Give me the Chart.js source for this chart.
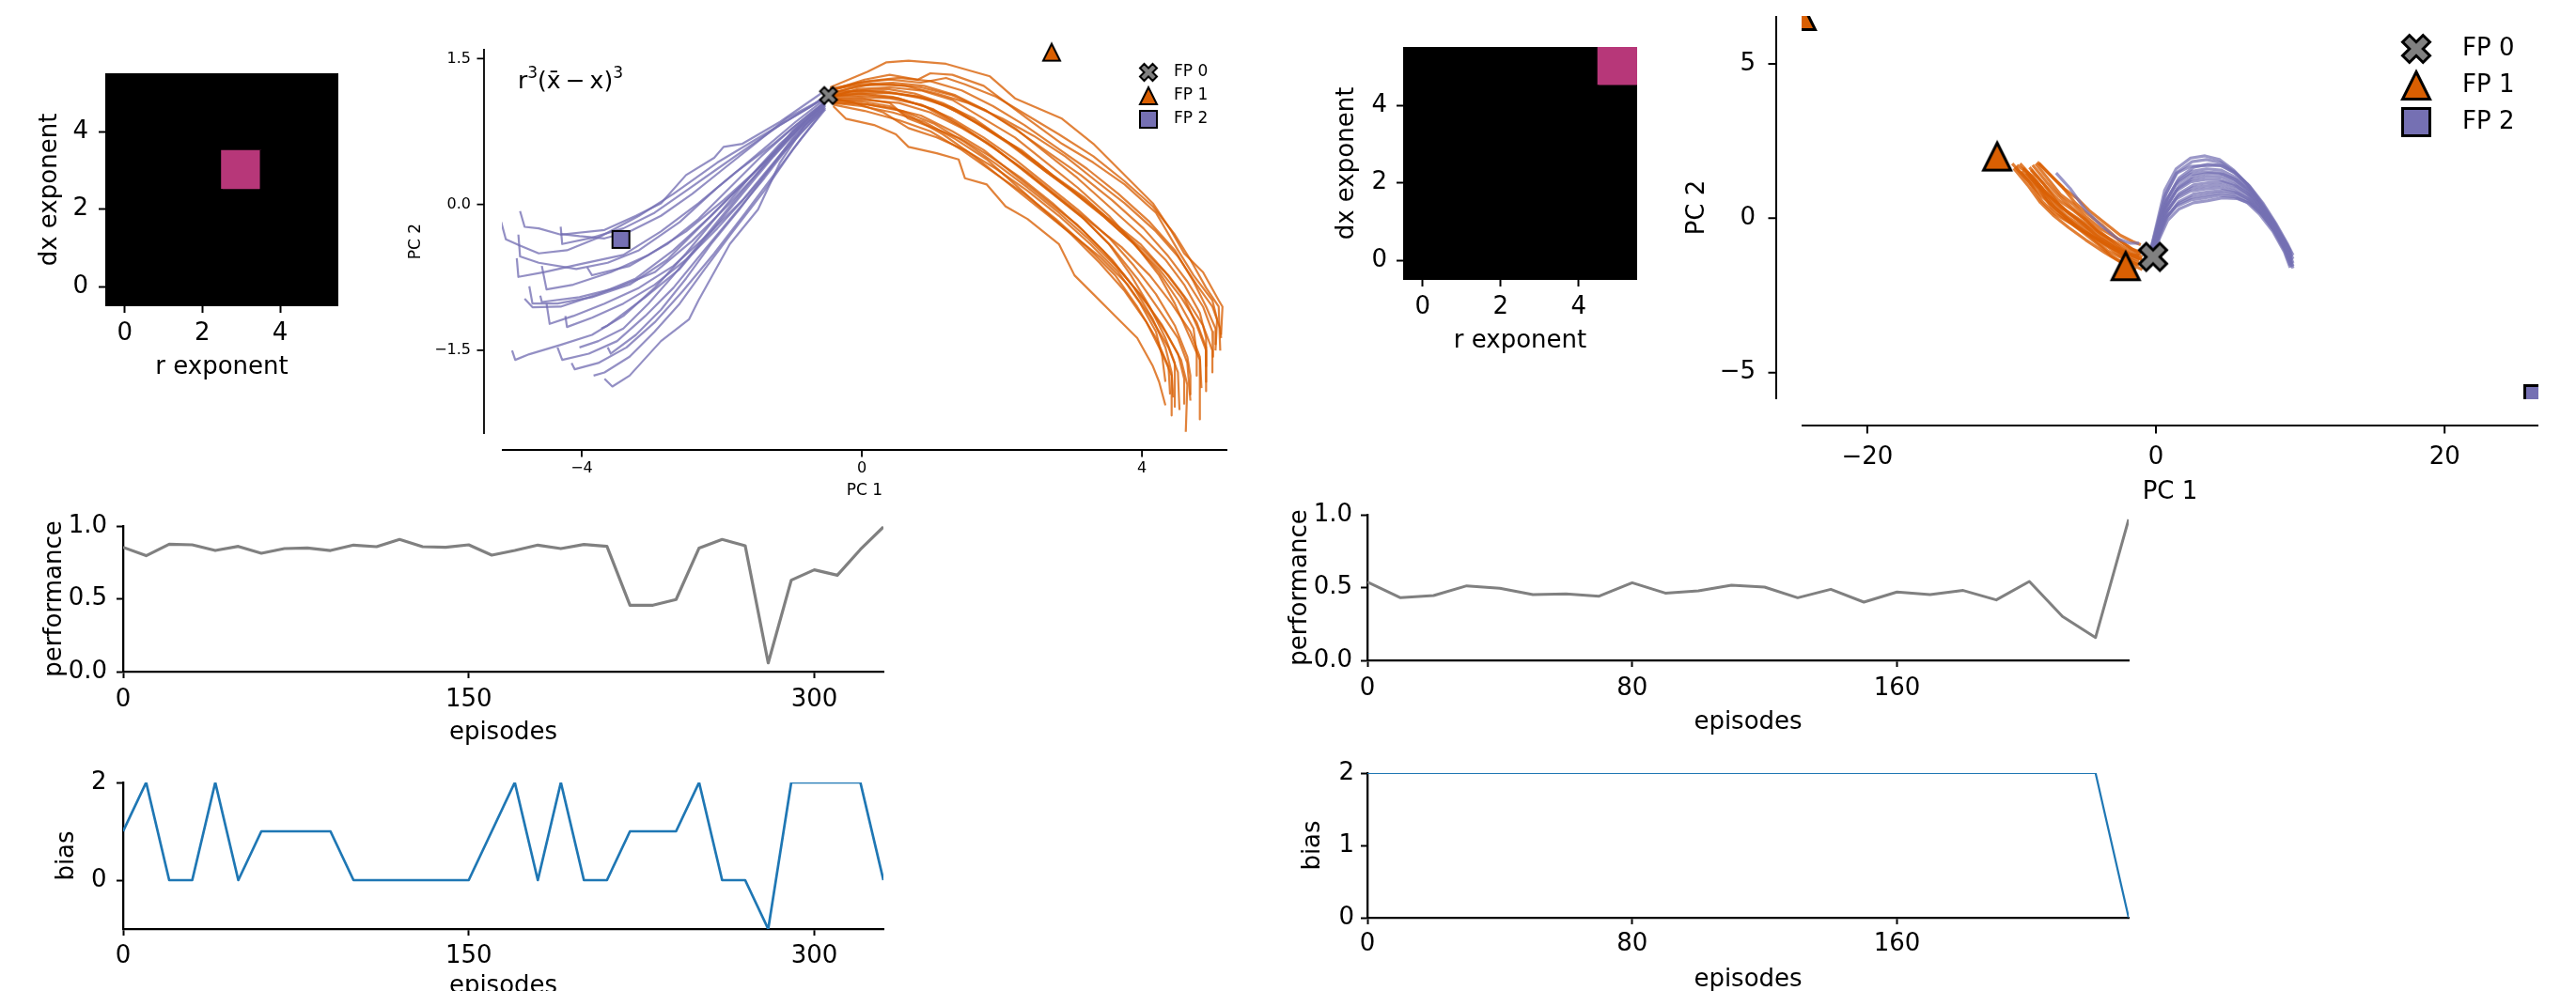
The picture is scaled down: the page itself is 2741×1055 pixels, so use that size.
<!DOCTYPE html>
<html><head><meta charset="utf-8">
<script src="https://cdn.jsdelivr.net/npm/chart.js@4.4.1/dist/chart.umd.min.js"></script>
<style>
html,body{margin:0;padding:0;background:#fff;overflow:hidden;width:2741px;height:1055px;}
canvas{position:absolute;}
</style></head><body>
<script>
// ================= DATA =================
const heatCols = ['0','1','2','3','4','5'];
const heatTicks = [0, 2, 4];
const heatTickLabels = ['0', '2', '4'];
const heatPalette = ['#000000', '#b73779'];
// rows = dx exponent 0..5 (bottom to top), columns = r exponent 0..5
const heatLeft = [
  [0,0,0,0,0,0],
  [0,0,0,0,0,0],
  [0,0,0,0,0,0],
  [0,0,0,1,0,0],
  [0,0,0,0,0,0],
  [0,0,0,0,0,0]];
const heatRight = [
  [0,0,0,0,0,0],
  [0,0,0,0,0,0],
  [0,0,0,0,0,0],
  [0,0,0,0,0,0],
  [0,0,0,0,0,0],
  [0,0,0,0,0,1]];

const fpLabels = ['FP 0', 'FP 1', 'FP 2'];

// ---- left PC panel ----
const pcLeftXTicks = [-4, 0, 4];
const pcLeftXTickLabels = ['\u22124', '0', '4'];
const pcLeftYTicks = [-1.5, 0, 1.5];
const pcLeftYTickLabels = ['\u22121.5', '0.0', '1.5'];
const pcLeftRange = { xmin: -5.14, xmax: 5.22, ymin: -2.36, ymax: 1.60 };
const fpLeft0 = [[-0.475, 1.12]];
const fpLeft1 = [[2.71, 1.565]];
const fpLeft2 = [[-3.44, -0.36]];
const leftPurple = [
 [-0.587,1.139, -1.168,0.849, -1.705,0.624, -1.974,0.592, -2.108,0.479, -2.51,0.302, -2.868,0.012, -3.226,-0.117, -3.674,-0.262, -4.30,-0.31, -4.613,-0.246, -4.815,-0.23, -4.88,-0.068],
 [-0.54,1.108, -0.72,1.011, -1.392,0.721, -2.063,0.431, -2.69,0.109, -3.182,-0.117, -3.763,-0.342, -4.21,-0.471, -4.613,-0.503, -4.88,-0.423, -5.083,-0.358, -5.15,-0.181],
 [-0.54,1.075, -0.945,0.849, -1.526,0.495, -2.063,0.173, -2.6,-0.181, -3.182,-0.471, -3.629,-0.6, -4.077,-0.664, -4.613,-0.6, -4.88,-0.535, -4.904,-0.31],
 [-0.52,1.059, -0.72,0.946, -1.258,0.624, -1.795,0.334, -2.332,0.012, -2.868,-0.278, -3.405,-0.519, -4.032,-0.616, -4.546,-0.697, -4.904,-0.745, -4.927,-0.552],
 [-0.54,1.043, -0.9,0.817, -1.392,0.431, -1.795,0.141, -2.242,-0.181, -2.779,-0.568, -3.316,-0.825, -3.853,-0.954, -4.345,-1.019, -4.703,-1.019, -4.748,-0.841],
 [-0.52,1.043, -0.72,0.914, -1.168,0.592, -1.616,0.27, -2.153,-0.117, -2.69,-0.471, -3.226,-0.761, -3.763,-0.922, -4.30,-1.051, -4.703,-1.057, -4.815,-0.97],
 [-0.54,1.011, -1.034,0.688, -1.482,0.366, -1.974,0.044, -2.51,-0.278, -3.047,-0.519, -3.584,-0.697, -4.121,-0.825, -4.502,-0.874, -4.569,-0.632],
 [-0.52,1.011, -0.81,0.817, -1.258,0.431, -1.705,0.044, -2.198,-0.31, -2.69,-0.632, -3.182,-0.857, -3.674,-1.019, -4.121,-1.147, -4.457,-1.228, -4.502,-1.019],
 [-0.52,0.994, -0.72,0.849, -1.168,0.495, -1.616,0.109, -2.063,-0.246, -2.51,-0.568, -2.958,-0.825, -3.405,-1.019, -3.853,-1.164, -4.21,-1.26, -4.233,-1.147],
 [-0.52,1.027, -0.72,0.914, -1.168,0.624, -1.616,0.27, -2.063,-0.117, -2.51,-0.503, -2.958,-0.857, -3.405,-1.147, -3.853,-1.341, -4.30,-1.444, -4.748,-1.54, -4.949,-1.598, -4.994,-1.502],
 [-0.54,0.978, -0.945,0.688, -1.392,0.27, -1.84,-0.117, -2.287,-0.503, -2.69,-0.857, -3.092,-1.147, -3.495,-1.405, -3.898,-1.534, -4.278,-1.598, -4.345,-1.47],
 [-0.52,0.978, -0.855,0.688, -1.258,0.302, -1.661,-0.085, -2.108,-0.503, -2.555,-0.89, -2.958,-1.212, -3.36,-1.47, -3.763,-1.63, -4.099,-1.695, -4.144,-1.63],
 [-0.54,1.011, -0.81,0.817, -1.168,0.431, -1.482,-0.052, -1.884,-0.407, -2.332,-0.986, -2.466,-1.18, -2.868,-1.405, -3.316,-1.76, -3.562,-1.872, -3.674,-1.792],
 [-0.54,0.978, -0.99,0.559, -1.392,0.141, -1.84,-0.278, -2.242,-0.664, -2.6,-1.019, -2.958,-1.308, -3.316,-1.566, -3.674,-1.727, -3.83,-1.76],
 [-0.54,0.994, -0.945,0.721, -1.347,0.334, -1.75,-0.052, -2.153,-0.407, -2.51,-0.761, -2.868,-1.083, -3.226,-1.341, -3.584,-1.534, -3.629,-1.47],
 [-0.54,1.027, -0.99,0.753, -1.437,0.366, -1.884,-0.02, -2.287,-0.374, -2.69,-0.729, -3.047,-1.019, -3.405,-1.276, -3.763,-1.405, -4.032,-1.47],
 [-0.54,1.043, -0.945,0.753, -1.392,0.399, -1.884,0.012, -2.421,-0.374, -2.958,-0.697, -3.495,-0.857, -4.032,-0.954, -4.569,-1.003, -4.591,-0.938],
 [-0.54,1.091, -0.72,1.011, -1.168,0.817, -1.616,0.592, -2.063,0.366, -2.51,0.141, -2.958,-0.085, -3.405,-0.246, -3.853,-0.342, -4.278,-0.407, -4.30,-0.23],
 [-0.54,1.043, -0.99,0.785, -1.437,0.495, -1.884,0.173, -2.332,-0.149, -2.779,-0.407, -3.316,-0.632, -3.853,-0.728, -3.92,-0.648],
 [-0.54,1.091, -1.079,0.882, -1.526,0.624, -1.974,0.366, -2.421,0.109, -2.868,-0.117, -3.316,-0.278, -3.674,-0.349, -4.032,-0.326, -4.30,-0.304],
 [-0.52,1.043, -0.81,0.849, -1.258,0.495, -1.705,0.109, -2.153,-0.278, -2.6,-0.664, -3.092,-0.954, -3.629,-1.244, -3.719,-1.276]
];
const leftOrange = [
 [-0.452,1.204, 0.085,1.365, 0.353,1.462, 0.666,1.478, 1.203,1.446, 1.83,1.317, 2.187,1.091, 2.858,0.882, 3.306,0.624, 3.798,0.27, 4.156,0.012, 4.424,-0.278, 4.603,-0.503, 4.872,-0.696, 5.096,-0.986, 5.15,-1.051, 5.13,-1.34],
 [-0.452,1.172, 0.04,1.284, 0.398,1.333, 0.8,1.284, 0.979,1.349, 1.293,1.333, 1.74,1.22, 2.008,1.075, 2.366,0.882, 2.858,0.624, 3.306,0.431, 3.753,0.205, 4.2,-0.085, 4.514,-0.471, 4.737,-0.729, 5.006,-0.986, 5.073,-1.18, 5.05,-1.502],
 [-0.452,1.139, -0.05,1.22, 0.398,1.236, 0.845,1.204, 1.293,1.123, 1.74,0.978, 2.187,0.785, 2.635,0.527, 3.082,0.27, 3.53,-0.02, 3.977,-0.31, 4.335,-0.568, 4.603,-0.825, 4.827,-1.115, 4.916,-1.373, 4.916,-1.824],
 [-0.43,1.107, -0.05,1.188, 0.398,1.204, 0.845,1.172, 1.293,1.075, 1.74,0.882, 2.187,0.689, 2.635,0.431, 3.082,0.173, 3.53,-0.117, 3.932,-0.439, 4.245,-0.729, 4.469,-1.019, 4.648,-1.308, 4.827,-1.598, 4.827,-2.21],
 [-0.408,1.011, -0.229,0.882, 0.174,0.817, 0.487,0.721, 0.666,0.592, 1.069,0.527, 1.382,0.463, 1.472,0.27, 1.785,0.205, 2.053,-0.02, 2.366,-0.149, 2.814,-0.407, 3.037,-0.729, 3.306,-0.922, 3.619,-1.147, 3.932,-1.373, 4.156,-1.663, 4.245,-1.824, 4.335,-2.066],
 [-0.43,1.059, -0.05,1.043, 0.398,0.994, 0.845,0.914, 1.293,0.753, 1.74,0.56, 2.187,0.302, 2.635,0.044, 3.082,-0.213, 3.44,-0.471, 3.753,-0.729, 4.066,-1.019, 4.335,-1.308, 4.558,-1.598, 4.648,-1.856, 4.626,-2.339],
 [-0.452,1.091, -0.05,1.107, 0.398,1.091, 0.845,1.027, 1.293,0.882, 1.74,0.689, 2.187,0.463, 2.635,0.205, 3.082,-0.052, 3.53,-0.342, 3.887,-0.632, 4.2,-0.922, 4.469,-1.244, 4.648,-1.566, 4.692,-1.76, 4.692,-1.953],
 [-0.452,1.156, 0.04,1.172, 0.487,1.14, 0.979,1.075, 1.382,0.946, 1.83,0.753, 2.277,0.56, 2.724,0.302, 3.172,0.076, 3.619,-0.213, 4.022,-0.471, 4.379,-0.729, 4.648,-0.986, 4.872,-1.244, 5.006,-1.502, 5.006,-1.727],
 [-0.43,1.123, 0.0,1.14, 0.443,1.107, 0.89,1.01, 1.337,0.833, 1.785,0.64, 2.232,0.399, 2.68,0.141, 3.127,-0.117, 3.53,-0.407, 3.843,-0.729, 4.111,-1.051, 4.335,-1.373, 4.469,-1.63, 4.469,-2.081],
 [-0.452,1.107, -0.05,1.14, 0.398,1.146, 0.845,1.107, 1.293,0.994, 1.74,0.801, 2.187,0.592, 2.635,0.334, 3.082,0.109, 3.53,-0.149, 3.977,-0.407, 4.335,-0.697, 4.603,-0.954, 4.782,-1.244, 4.916,-1.502, 4.916,-1.92],
 [-0.43,1.075, 0.0,1.059, 0.398,1.011, 0.756,0.882, 1.158,0.721, 1.606,0.495, 2.053,0.238, 2.5,-0.02, 2.948,-0.278, 3.395,-0.535, 3.798,-0.825, 4.111,-1.147, 4.379,-1.47, 4.514,-1.727, 4.536,-2.113],
 [-0.452,1.188, 0.085,1.268, 0.532,1.301, 0.979,1.268, 1.427,1.172, 1.874,1.011, 2.321,0.817, 2.769,0.592, 3.217,0.366, 3.664,0.109, 4.111,-0.181, 4.469,-0.471, 4.737,-0.793, 4.916,-1.051, 5.051,-1.276, 5.051,-1.437],
 [-0.408,1.043, 0.0,1.011, 0.443,0.946, 0.89,0.85, 1.337,0.672, 1.785,0.463, 2.187,0.205, 2.59,-0.052, 2.993,-0.31, 3.395,-0.6, 3.753,-0.89, 4.066,-1.212, 4.29,-1.534, 4.424,-1.76, 4.424,-2.17],
 [-0.452,1.146, 0.129,1.236, 0.621,1.22, 1.069,1.14, 1.516,1.043, 2.008,0.882, 2.456,0.705, 2.903,0.495, 3.35,0.238, 3.753,0.012, 4.2,-0.278, 4.514,-0.535, 4.782,-0.825, 5.006,-1.051, 5.118,-1.276, 5.131,-1.373],
 [-0.43,1.091, -0.094,1.043, 0.308,0.946, 0.666,0.785, 1.069,0.689, 1.472,0.56, 1.919,0.366, 2.366,0.141, 2.814,-0.117, 3.261,-0.407, 3.664,-0.697, 3.977,-1.019, 4.2,-1.308, 4.29,-1.566, 4.335,-1.824],
 [-0.452,1.114, 0.04,1.123, 0.532,1.091, 1.024,0.978, 1.472,0.785, 1.919,0.56, 2.366,0.334, 2.814,0.076, 3.261,-0.181, 3.709,-0.439, 4.111,-0.729, 4.424,-1.019, 4.692,-1.308, 4.827,-1.566, 4.85,-1.888],
 [-0.452,1.133, -0.05,1.172, 0.353,1.188, 0.756,1.14, 1.158,1.043, 1.606,0.882, 2.053,0.656, 2.5,0.431, 2.948,0.173, 3.395,-0.085, 3.843,-0.375, 4.245,-0.664, 4.558,-0.954, 4.782,-1.212, 4.916,-1.47, 4.916,-1.663],
 [-0.408,1.027, 0.04,0.962, 0.532,0.866, 0.979,0.753, 1.427,0.56, 1.874,0.334, 2.321,0.109, 2.769,-0.149, 3.217,-0.439, 3.619,-0.729, 3.932,-1.051, 4.2,-1.373, 4.379,-1.663, 4.402,-1.953],
 [-0.452,1.165, -0.05,1.252, 0.398,1.284, 0.845,1.252, 1.203,1.301, 1.472,1.236, 1.919,1.107, 2.366,0.914, 2.814,0.721, 3.306,0.495, 3.753,0.238, 4.156,-0.02, 4.469,-0.31, 4.692,-0.568, 4.916,-0.857, 5.096,-1.051, 5.118,-1.502],
 [-0.43,1.069, 0.04,1.075, 0.532,1.043, 0.979,0.946, 1.427,0.785, 1.874,0.592, 2.277,0.366, 2.724,0.109, 3.172,-0.149, 3.574,-0.439, 3.932,-0.761, 4.245,-1.083, 4.514,-1.373, 4.648,-1.63, 4.692,-2.017],
 [-0.452,1.123, -0.094,1.156, 0.308,1.165, 0.756,1.114, 1.203,1.011, 1.65,0.833, 2.098,0.624, 2.545,0.382, 2.993,0.141, 3.44,-0.117, 3.887,-0.407, 4.245,-0.697, 4.514,-0.986, 4.737,-1.276, 4.782,-1.534, 4.782,-1.76],
 [-0.408,1.049, 0.085,1.027, 0.577,0.962, 1.024,0.833, 1.472,0.64, 1.919,0.415, 2.366,0.173, 2.814,-0.085, 3.217,-0.342, 3.619,-0.632, 3.977,-0.922, 4.29,-1.244, 4.514,-1.534, 4.603,-1.792, 4.603,-2.049],
 [-0.452,1.178, -0.005,1.236, 0.443,1.252, 0.89,1.22, 1.337,1.123, 1.785,0.962, 2.232,0.753, 2.68,0.527, 3.127,0.302, 3.574,0.044, 4.022,-0.246, 4.379,-0.535, 4.648,-0.793, 4.872,-1.051, 5.006,-1.308, 5.015,-1.566],
 [-0.43,1.081, 0.0,1.091, 0.398,1.043, 0.666,0.882, 1.024,0.785, 1.427,0.672, 1.83,0.495, 2.277,0.27, 2.724,0.012, 3.172,-0.278, 3.574,-0.568, 3.887,-0.857, 4.156,-1.18, 4.335,-1.47, 4.424,-1.727, 4.447,-1.985]
];

// ---- right PC panel ----
const pcRightXTicks = [-20, 0, 20];
const pcRightXTickLabels = ['\u221220', '0', '20'];
const pcRightYTicks = [-5, 0, 5];
const pcRightYTickLabels = ['\u22125', '0', '5'];
const pcRightRange = { xmin: -24.55, xmax: 26.5, ymin: -5.86, ymax: 6.55 };
const fpRight0 = [[-0.2, -1.25]];
const fpRight1 = [[-24.55, 6.55], [-11.0, 2.0], [-2.1, -1.55]];
const fpRight2 = [[26.5, -5.86]];
const rightOrange = [
 [-9.956,1.769, -8.979,1.264, -7.893,0.708, -6.807,0.254, -5.504,-0.251, -4.201,-0.655, -2.898,-1.008, -1.812,-1.261, -1.16,-1.362],
 [-9.63,1.719, -8.544,1.365, -7.676,0.86, -6.59,0.355, -5.287,-0.049, -3.983,-0.453, -2.68,-0.806, -1.594,-1.109, -0.942,-1.261],
 [-9.196,1.618, -8.327,1.163, -7.024,0.456, -6.155,0.052, -4.852,-0.352, -3.549,-0.857, -2.463,-1.211, -1.377,-1.564, -0.942,-1.665],
 [-8.11,1.789, -7.241,1.365, -6.372,0.961, -5.504,0.658, -4.635,0.254, -3.549,-0.15, -2.463,-0.554, -1.594,-0.756, -1.051,-0.857],
 [-8.762,1.648, -7.676,1.062, -6.807,0.607, -5.721,0.254, -4.635,-0.15, -3.549,-0.554, -2.463,-0.958, -1.594,-1.211, -0.942,-1.362],
 [-9.305,1.516, -8.11,0.961, -7.241,0.355, -6.372,0.001, -5.069,-0.453, -3.983,-0.857, -3.114,-1.211, -2.245,-1.463, -1.377,-1.665],
 [-8.327,1.769, -7.458,1.264, -6.59,0.759, -5.721,0.456, -4.852,0.052, -3.766,-0.352, -2.68,-0.655, -1.811,-0.958, -1.051,-1.16],
 [-9.739,1.668, -8.762,1.163, -7.893,0.557, -7.024,0.153, -5.938,-0.15, -4.635,-0.554, -3.331,-1.059, -2.245,-1.312, -1.16,-1.514],
 [-8.544,1.719, -7.567,1.163, -6.698,0.708, -5.829,0.355, -4.852,-0.049, -3.874,-0.504, -2.789,-0.908, -1.811,-1.16, -1.16,-1.211],
 [-8.979,1.466, -7.893,0.86, -7.024,0.355, -5.938,-0.1, -4.852,-0.453, -3.766,-0.756, -2.68,-1.059, -1.811,-1.362, -1.268,-1.514],
 [-9.413,1.769, -8.436,1.264, -7.458,0.759, -6.372,0.305, -5.178,-0.15, -3.983,-0.605, -2.789,-0.958, -1.703,-1.211, -0.986,-1.312],
 [-8.219,1.82, -7.35,1.416, -6.481,1.012, -5.613,0.506, -4.635,0.102, -3.657,-0.251, -2.571,-0.706, -1.594,-1.009, -0.986,-1.11],
 [-9.848,1.618, -8.87,1.062, -8.002,0.506, -7.133,0.102, -6.047,-0.302, -4.852,-0.706, -3.549,-1.11, -2.463,-1.412, -1.485,-1.665],
 [-8.653,1.567, -7.784,1.113, -6.916,0.557, -6.047,0.153, -4.961,-0.2, -3.766,-0.655, -2.68,-1.009, -1.811,-1.312, -1.16,-1.463]
];
const rightPurple = [
 [-6.916,1.466, -5.938,0.961, -4.852,0.254, -3.766,-0.251, -2.68,-0.655, -1.811,-0.806, -1.16,-0.806],
 [-0.35,-1.0, 0.1,-0.1, 0.6,0.9, 1.4,1.6, 2.4,1.95, 3.4,2.02, 4.4,1.9, 5.4,1.55, 6.3,1.12, 7.2,0.55, 8.1,-0.1, 8.9,-0.72, 9.3,-1.05],
 [-0.3,-1.0, 0.15,-0.15, 0.7,0.8, 1.5,1.5, 2.5,1.83, 3.5,1.9, 4.5,1.8, 5.5,1.48, 6.4,1.08, 7.3,0.52, 8.2,-0.12, 9.0,-0.78, 9.4,-1.15],
 [-0.2,-1.05, 0.25,-0.25, 0.8,0.65, 1.6,1.3, 2.6,1.65, 3.6,1.75, 4.6,1.7, 5.6,1.42, 6.5,1.04, 7.4,0.5, 8.3,-0.16, 9.1,-0.82, 9.5,-1.2],
 [-0.3,-1.05, 0.15,-0.3, 0.7,0.55, 1.5,1.2, 2.5,1.52, 3.5,1.6, 4.5,1.56, 5.5,1.33, 6.4,0.98, 7.3,0.45, 8.2,-0.2, 9.0,-0.86, 9.4,-1.25],
 [-0.35,-1.05, 0.1,-0.35, 0.6,0.45, 1.4,1.1, 2.4,1.42, 3.4,1.5, 4.4,1.47, 5.4,1.27, 6.3,0.93, 7.2,0.42, 8.1,-0.22, 8.9,-0.9, 9.3,-1.3],
 [-0.2,-1.1, 0.25,-0.38, 0.8,0.42, 1.6,1.04, 2.6,1.37, 3.6,1.45, 4.6,1.43, 5.6,1.24, 6.5,0.91, 7.4,0.4, 8.3,-0.24, 9.1,-0.92, 9.5,-1.32],
 [-0.3,-1.1, 0.15,-0.42, 0.7,0.35, 1.5,0.96, 2.5,1.27, 3.5,1.35, 4.5,1.34, 5.5,1.17, 6.4,0.86, 7.3,0.37, 8.2,-0.26, 9.0,-0.94, 9.4,-1.36],
 [-0.35,-1.1, 0.1,-0.46, 0.6,0.3, 1.4,0.88, 2.4,1.18, 3.4,1.25, 4.4,1.25, 5.4,1.1, 6.3,0.81, 7.2,0.33, 8.1,-0.28, 8.9,-0.96, 9.3,-1.4],
 [-0.2,-1.12, 0.25,-0.5, 0.8,0.24, 1.6,0.8, 2.6,1.08, 3.6,1.15, 4.6,1.17, 5.6,1.03, 6.5,0.76, 7.4,0.3, 8.3,-0.31, 9.1,-0.98, 9.5,-1.45],
 [-0.3,-1.15, 0.15,-0.52, 0.7,0.18, 1.5,0.72, 2.5,0.98, 3.5,1.05, 4.5,1.08, 5.5,0.96, 6.4,0.71, 7.3,0.26, 8.2,-0.33, 9.0,-1.0, 9.4,-1.48],
 [-0.35,-1.15, 0.1,-0.55, 0.6,0.12, 1.4,0.62, 2.4,0.88, 3.4,0.95, 4.4,0.99, 5.4,0.89, 6.3,0.65, 7.2,0.22, 8.1,-0.36, 8.9,-1.03, 9.3,-1.52],
 [-0.2,-1.18, 0.25,-0.58, 0.8,0.06, 1.6,0.54, 2.6,0.78, 3.6,0.85, 4.6,0.9, 5.6,0.82, 6.5,0.6, 7.4,0.18, 8.3,-0.38, 9.1,-1.05, 9.5,-1.55],
 [-0.3,-1.2, 0.15,-0.6, 0.7,0.02, 1.5,0.46, 2.5,0.68, 3.5,0.75, 4.5,0.82, 5.5,0.76, 6.4,0.56, 7.3,0.15, 8.2,-0.4, 9.0,-1.07, 9.4,-1.58],
 [-0.35,-1.2, 0.1,-0.62, 0.6,-0.03, 1.4,0.38, 2.4,0.59, 3.4,0.66, 4.4,0.74, 5.4,0.7, 6.3,0.52, 7.2,0.12, 8.1,-0.42, 8.9,-1.09, 9.3,-1.6],
 [-0.2,-1.22, 0.25,-0.65, 0.8,-0.08, 1.6,0.3, 2.6,0.5, 3.6,0.57, 4.6,0.66, 5.6,0.64, 6.5,0.48, 7.4,0.1, 8.3,-0.44, 9.1,-1.1, 9.5,-1.62],
 [-0.35,-1.0, 0.1,-0.2, 0.6,0.7, 1.4,1.45, 2.4,1.68, 3.4,1.7, 4.4,1.72, 5.4,1.5, 6.3,1.1, 7.2,0.52, 8.1,-0.1, 8.9,-0.76, 9.3,-1.1]
];

// ---- performance / bias ----
const episodesLeft = [0,10,20,30,40,50,60,70,80,90,100,110,120,130,140,150,160,170,180,190,200,210,220,230,240,250,260,270,280,290,300,310,320,330];
const perfLeft = [0.854,0.796,0.875,0.871,0.832,0.86,0.813,0.845,0.849,0.832,0.869,0.858,0.908,0.858,0.854,0.871,0.80,0.832,0.869,0.845,0.873,0.86,0.456,0.456,0.495,0.849,0.908,0.865,0.06,0.628,0.699,0.662,0.839,0.994];
const biasLeft = [1,2,0,0,2,0,1,1,1,1,0,0,0,0,0,0,1,2,0,2,0,0,1,1,1,2,0,0,-1,2,2,2,2,0];
const episodesRight = [0,10,20,30,40,50,60,70,80,90,100,110,120,130,140,150,160,170,180,190,200,210,220,230];
const perfRight = [0.538,0.43,0.445,0.512,0.495,0.452,0.456,0.441,0.533,0.462,0.477,0.516,0.503,0.43,0.488,0.40,0.469,0.452,0.48,0.415,0.542,0.301,0.157,0.968];
const biasRight = [2,2,2,2,2,2,2,2,2,2,2,2,2,2,2,2,2,2,2,2,2,2,2,0];

const episodeTicksLeft = [0, 150, 300];
const episodeTicksRight = [0, 80, 160];
const perfTicks = [0, 0.5, 1.0];
const perfTickLabels = ['0.0', '0.5', '1.0'];
const biasTicksLeft = [0, 2];
const biasTicksRight = [0, 1, 2];

// ================= RENDERING =================
const FONT = "'DejaVu Sans'";
Chart.defaults.font.family = FONT;
Chart.defaults.color = '#000';
const ORANGE = '#d95f02', PURPLE = '#7570b3', GRAY = '#808080', BLUE = '#1f77b4';

function makeCanvas(g) {
  const c = document.createElement('canvas');
  c.width = g.cw; c.height = g.ch;
  c.style.left = g.cl + 'px'; c.style.top = g.ct + 'px';
  c.style.width = g.cw + 'px'; c.style.height = g.ch + 'px';
  document.body.appendChild(c);
  return c;
}
function lay(g) {
  return { pt: g.at - g.ct, pr: g.cl + g.cw - g.ar, yw: g.al - g.cl, xh: g.ct + g.ch - g.ab };
}
function axis(side, p) {
  const a = {
    type: p.type || 'linear', position: side,
    afterBuildTicks: s => { s.ticks = p.ticks.map(v => ({ value: v })); },
    afterFit: s => {
      if (side === 'bottom') s.height = p.size; else s.width = p.size;
      s.paddingTop = 0; s.paddingBottom = 0; s.paddingLeft = 0; s.paddingRight = 0;
    },
    ticks: { font: { family: FONT, size: p.font }, color: '#000', padding: p.pad, autoSkip: false,
             maxRotation: 0, minRotation: 0, callback: (v, i) => p.labels[i] },
    grid: p.native ? { display: true, drawOnChartArea: false, drawTicks: true, tickLength: p.tl,
                       tickWidth: p.tw, tickColor: '#000', offset: false }
                   : { display: false, drawTicks: false },
    border: p.border ? { display: true, color: '#000', width: p.border } : { display: false },
    title: { display: true, text: p.title, color: '#000', font: { family: FONT, size: p.tfont || p.font },
             padding: side === 'bottom' ? { top: 0, bottom: p.tpad } : { top: p.tpad, bottom: 0 } }
  };
  if (a.type === 'category') { a.offset = true; } else { a.min = p.min; a.max = p.max; }
  return a;
}
function baseOpts(L, scales, extra) {
  return Object.assign({
    responsive: false, animation: false, devicePixelRatio: 1, events: [],
    layout: { padding: { top: L.pt, right: L.pr, bottom: 0, left: 0 } },
    plugins: { legend: { display: false }, tooltip: { enabled: false }, title: { display: false } },
    scales
  }, extra || {});
}

// ---- heatmaps (floating bar cells) ----
function heatmap(g, grid, o) {
  const L = lay(g);
  new Chart(makeCanvas(g), {
    type: 'bar',
    data: {
      labels: heatCols,
      datasets: grid.map((row, r) => ({
        data: row.map(() => [r - 0.5, r + 0.5]),
        backgroundColor: row.map(v => heatPalette[v]),
        borderWidth: 0, barPercentage: 1, categoryPercentage: 1, grouped: false, inflateAmount: 0.8
      }))
    },
    options: baseOpts(L, {
      x: axis('bottom', { type: 'category', ticks: heatTicks, labels: heatTickLabels, size: L.xh, pad: o.xpad,
        font: 26, title: 'r exponent', tpad: o.xt, native: true, tl: 7, tw: 2 }),
      y: axis('left', { min: -0.5, max: 5.5, ticks: heatTicks, labels: heatTickLabels, size: L.yw, pad: o.ypad,
        font: 26, title: 'dx exponent', tpad: o.yt, native: true, tl: 7, tw: 2 })
    })
  });
}

// ---- markers ----
function markerImg(kind, size, fill, lw) {
  const pad = Math.ceil(lw) + 3;
  const dim = Math.ceil(size + pad * 2);
  const c = document.createElement('canvas'); c.width = dim; c.height = dim;
  const ctx = c.getContext('2d');
  ctx.translate(dim / 2, dim / 2);
  const h = (size - lw) / 2;
  ctx.beginPath();
  if (kind === 'square') {
    ctx.rect(-h, -h, 2 * h, 2 * h);
  } else if (kind === 'triangle') {
    ctx.moveTo(0, -h); ctx.lineTo(h, h); ctx.lineTo(-h, h); ctx.closePath();
  } else {
    const a = h / 0.9428, t = a / 3;
    ctx.rotate(Math.PI / 4);
    const pts = [[t,-a],[t,-t],[a,-t],[a,t],[t,t],[t,a],[-t,a],[-t,t],[-a,t],[-a,-t],[-t,-t],[-t,-a]];
    pts.forEach((p, i) => i ? ctx.lineTo(p[0], p[1]) : ctx.moveTo(p[0], p[1]));
    ctx.closePath();
  }
  ctx.fillStyle = fill; ctx.fill();
  ctx.lineWidth = lw; ctx.strokeStyle = '#000'; ctx.lineJoin = 'miter'; ctx.stroke();
  return c;
}

function spinePlugin(o) {
  return {
    id: 'spines',
    afterDraw(chart) {
      const { ctx, chartArea: a, scales: { x, y } } = chart;
      const sx = a.left - o.offY, sy = a.bottom + o.offX;
      ctx.save();
      ctx.strokeStyle = '#000'; ctx.lineWidth = o.width;
      ctx.beginPath();
      ctx.moveTo(sx, a.top); ctx.lineTo(sx, a.bottom);
      ctx.moveTo(a.left, sy); ctx.lineTo(a.right, sy);
      ctx.stroke();
      ctx.lineWidth = o.tw;
      ctx.beginPath();
      y.ticks.forEach(t => { const p = y.getPixelForValue(t.value); ctx.moveTo(sx, p); ctx.lineTo(sx - o.tl, p); });
      x.ticks.forEach(t => { const p = x.getPixelForValue(t.value); ctx.moveTo(p, sy); ctx.lineTo(p, sy + o.tl); });
      ctx.stroke();
      ctx.restore();
    }
  };
}
function legendPlugin(o) {
  return {
    id: 'fpLegend',
    afterDraw(chart) {
      const ctx = chart.ctx;
      ctx.save();
      ctx.font = o.font + 'px ' + FONT; ctx.fillStyle = '#000';
      ctx.textBaseline = 'middle'; ctx.textAlign = 'left';
      o.imgs.forEach((img, i) => {
        const yy = o.y + i * o.dy;
        ctx.drawImage(img, o.x - img.width / 2, yy - img.height / 2);
        ctx.fillText(fpLabels[i], o.tx, yy);
      });
      ctx.restore();
    }
  };
}
const formulaPlugin = {
  id: 'formula',
  afterDraw(chart) {
    const ctx = chart.ctx;
    let x = 131; const y = 94;
    ctx.save(); ctx.fillStyle = '#000'; ctx.textBaseline = 'alphabetic';
    const big = '25px ' + FONT, small = '17px ' + FONT;
    const put = (t, f, dy) => { ctx.font = f; ctx.fillText(t, x, y + dy); x += ctx.measureText(t).width; };
    put('r', big, 0); put('3', small, -11); put('(x\u0304', big, 0);
    x += 5; put('\u2212', big, 0); x += 5;
    put('x)', big, 0); put('3', small, -11);
    ctx.restore();
  }
};

function pairs(arr) { const pts = []; for (let i = 0; i < arr.length; i += 2) pts.push({ x: arr[i], y: arr[i + 1] }); return pts; }
function toPts(list) { return list.map(p => ({ x: p[0], y: p[1] })); }

function pcChart(g, o) {
  const L = lay(g);
  const m0 = markerImg('x', o.ms, GRAY, o.mlw), m1 = markerImg('triangle', o.ms, ORANGE, o.mlw),
        m2 = markerImg('square', o.ms, PURPLE, o.mlw);
  const lines = (list, color, order) => list.map(arr => ({
    data: pairs(arr), showLine: true, borderColor: color, borderWidth: o.lw, pointRadius: 0,
    tension: 0, fill: false, order, borderJoinStyle: 'round'
  }));
  const mk = (pts, img) => ({ data: toPts(pts), showLine: false, pointStyle: img, pointRadius: o.ms / 2,
    order: 0, clip: o.clipMarkers });
  const datasets = [
    mk(o.fp0, m0), mk(o.fp1, m1), mk(o.fp2, m2),
    ...lines(o.purple, o.purpleColor, 2),
    ...lines(o.orange, o.orangeColor, 3)
  ];
  const plugins = [spinePlugin(o.spine), legendPlugin({ imgs: [m0, m1, m2], x: o.leg.x - g.cl, y: o.leg.y - g.ct,
    dy: o.leg.dy, tx: o.leg.tx - g.cl, font: o.leg.font })];
  if (o.formula) plugins.push(formulaPlugin);
  new Chart(makeCanvas(g), {
    type: 'scatter',
    data: { datasets },
    options: baseOpts(L, {
      x: axis('bottom', { min: o.range.xmin, max: o.range.xmax, ticks: o.xt, labels: o.xl, size: L.xh,
        pad: o.xpad, font: o.font, tfont: o.tfont, title: 'PC 1', tpad: o.xtp }),
      y: axis('left', { min: o.range.ymin, max: o.range.ymax, ticks: o.yt, labels: o.yl, size: L.yw,
        pad: o.ypad, font: o.font, tfont: o.tfont, title: 'PC 2', tpad: o.ytp })
    }),
    plugins
  });
}

function seriesChart(g, o) {
  const L = lay(g);
  new Chart(makeCanvas(g), {
    type: 'line',
    data: { datasets: [{ data: o.xs.map((x, i) => ({ x, y: o.ys[i] })), borderColor: o.color, borderWidth: o.lw,
      pointRadius: 0, tension: 0, fill: false, borderJoinStyle: 'round' }] },
    options: baseOpts(L, {
      x: axis('bottom', { min: o.xmin, max: o.xmax, ticks: o.xt, labels: o.xt.map(String), size: L.xh,
        pad: o.xpad, font: 26, title: 'episodes', tpad: o.xtp, native: true, tl: 7, tw: 2, border: 2.3 }),
      y: axis('left', { min: o.ymin, max: o.ymax, ticks: o.yt, labels: o.yl, size: L.yw,
        pad: o.ypad, font: 26, title: o.ytitle, tpad: o.ytp, native: true, tl: 7, tw: 2, border: 2.3 })
    })
  });
}

// ---- build figure ----
heatmap({ cl: 0, ct: 40, cw: 400, ch: 380, al: 112, at: 78, ar: 360, ab: 326 }, heatLeft,
  { xpad: 6.4, xt: 13.4, ypad: 11, yt: 37.4 });
heatmap({ cl: 1350, ct: 0, cw: 420, ch: 400, al: 1493, at: 50, ar: 1742, ab: 298 }, heatRight,
  { xpad: 6.4, xt: 21.4, ypad: 10, yt: 67.4 });

pcChart({ cl: 420, ct: 0, cw: 900, ch: 545, al: 534, at: 52, ar: 1306, ab: 462 }, {
  range: pcLeftRange, xt: pcLeftXTicks, xl: pcLeftXTickLabels, yt: pcLeftYTicks, yl: pcLeftYTickLabels,
  font: 16, tfont: 17, xpad: 27.4, ypad: 33, xtp: 11.8, ytp: 12.8,
  fp0: fpLeft0, fp1: fpLeft1, fp2: fpLeft2, purple: leftPurple, orange: leftOrange,
  purpleColor: 'rgba(117,112,179,0.78)', orangeColor: 'rgba(217,95,2,0.78)', lw: 2.2,
  ms: 20, mlw: 2, clipMarkers: false,
  spine: { offX: 17, offY: 19, width: 1.8, tl: 7.5, tw: 1.8 },
  leg: { x: 1222, y: 77, dy: 25, tx: 1249, font: 17 }, formula: true
});

pcChart({ cl: 1750, ct: 0, cw: 991, ch: 545, al: 1917, at: 15, ar: 2701, ab: 425 }, {
  range: pcRightRange, xt: pcRightXTicks, xl: pcRightXTickLabels, yt: pcRightYTicks, yl: pcRightYTickLabels,
  font: 26, tfont: 26, xpad: 46.4, ypad: 49, xtp: 4.7, ytp: 40.4,
  fp0: fpRight0, fp1: fpRight1, fp2: fpRight2, purple: rightPurple, orange: rightOrange,
  purpleColor: 'rgba(117,112,179,0.72)', orangeColor: 'rgba(217,95,2,0.8)', lw: 3.2,
  ms: 32, mlw: 3, clipMarkers: 0,
  spine: { offX: 28, offY: 27, width: 2, tl: 8.5, tw: 2 },
  leg: { x: 2571, y: 52, dy: 39, tx: 2620, font: 26 }, formula: false
});

seriesChart({ cl: 0, ct: 520, cw: 960, ch: 280, al: 131, at: 560, ar: 940, ab: 715 }, {
  xs: episodesLeft, ys: perfLeft, color: GRAY, lw: 3.2, xmin: 0, xmax: 330, xt: episodeTicksLeft,
  ymin: 0, ymax: 1, yt: perfTicks, yl: perfTickLabels, ytitle: 'performance',
  xpad: 7.4, xtp: 4.4, ypad: 10, ytp: 42.4
});
seriesChart({ cl: 0, ct: 800, cw: 960, ch: 280, al: 131, at: 833, ar: 940, ab: 989 }, {
  xs: episodesLeft, ys: biasLeft, color: BLUE, lw: 2.7, xmin: 0, xmax: 330, xt: episodeTicksLeft,
  ymin: -1, ymax: 2, yt: biasTicksLeft, yl: biasTicksLeft.map(String), ytitle: 'bias',
  xpad: 6.4, xtp: 14.4, ypad: 10.5, ytp: 55.4
});
seriesChart({ cl: 1320, ct: 520, cw: 980, ch: 280, al: 1455, at: 548, ar: 2265, ab: 703 }, {
  xs: episodesRight, ys: perfRight, color: GRAY, lw: 3, xmin: 0, xmax: 230, xt: episodeTicksRight,
  ymin: 0, ymax: 1, yt: perfTicks, yl: perfTickLabels, ytitle: 'performance',
  xpad: 7.4, xtp: 15.4, ypad: 9, ytp: 47.4
});
seriesChart({ cl: 1320, ct: 800, cw: 980, ch: 280, al: 1455, at: 823, ar: 2265, ab: 977 }, {
  xs: episodesRight, ys: biasRight, color: BLUE, lw: 2.2, xmin: 0, xmax: 230, xt: episodeTicksRight,
  ymin: 0, ymax: 2, yt: biasTicksRight, yl: biasTicksRight.map(String), ytitle: 'bias',
  xpad: 5.4, xtp: 21.4, ypad: 7, ytp: 61.4
});
</script>
</body></html>
